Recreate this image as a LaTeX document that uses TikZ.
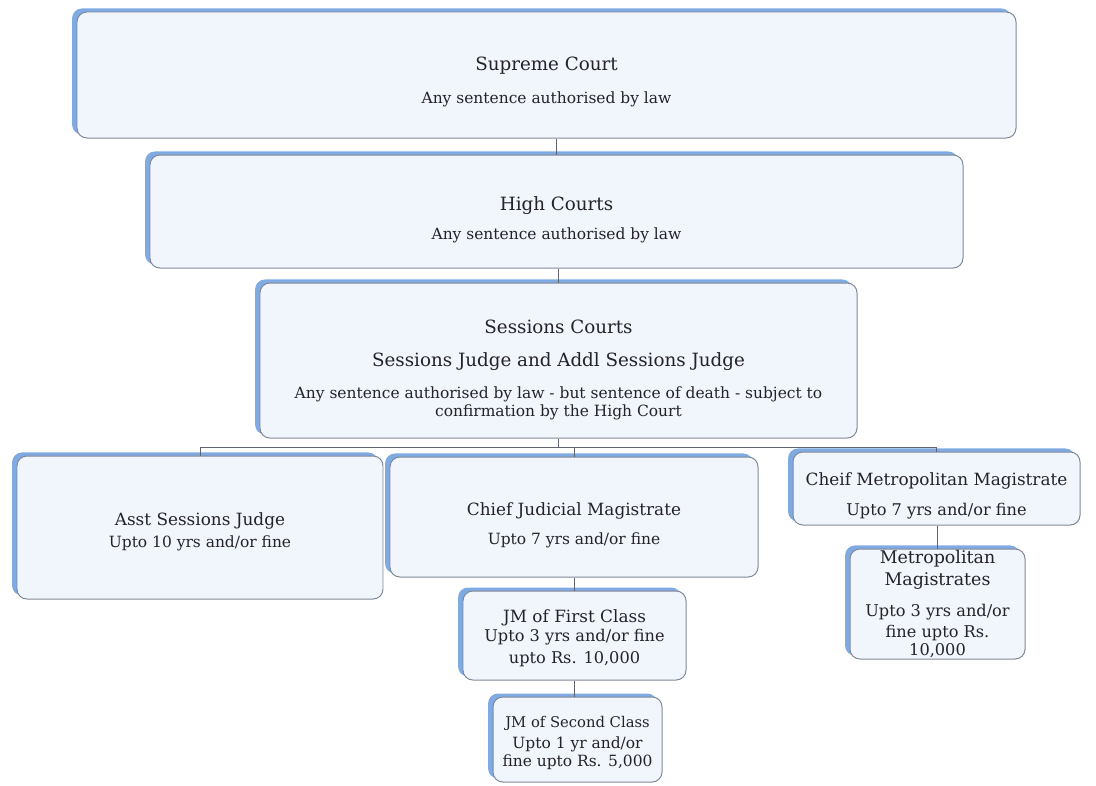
\documentclass[tikz,border=0pt]{standalone}
\usepackage{fontspec}
\setmainfont{DejaVu Serif}
\usepackage{tikz}
\usetikzlibrary{shadows}
\definecolor{boxfill}{RGB}{241,245,252}
\definecolor{boxline}{RGB}{128,136,150}
\definecolor{edgeblue}{RGB}{128,170,226}
\definecolor{wireg}{RGB}{95,100,112}
\definecolor{inkc}{RGB}{35,35,40}
\newcommand{\hd}{\fontsize{13}{15}\selectfont}
\newcommand{\md}{\fontsize{12}{14}\selectfont}
\newcommand{\bd}{\fontsize{11}{13}\selectfont}
\newcommand{\lowr}[1]{\rule{0pt}{#1}}

\tikzset{
  court/.style={draw=boxline, fill=boxfill, rounded corners=7pt, line width=0.7pt,
    align=center, font=\bd, text=inkc, inner sep=2pt,
    drop shadow={shadow xshift=-3.5pt, shadow yshift=2.5pt, fill=edgeblue, opacity=1}},
  wh/.style 2 args={minimum width=#1*0.025cm, minimum height=#2*0.025cm},
  wire/.style={draw=wireg, line width=0.6pt}
}

\begin{document}
\begin{tikzpicture}[x=0.025cm, y=-0.025cm]
  \useasboundingbox (0,0) rectangle (1096,785);
  % top of the tree
  \node[court, wh={939}{126}] (SupC) at (546.5,75)
    {{\hd\lowr{19.5pt}Supreme Court}\\[10.5pt]Any sentence authorised by law};
  \node[court, wh={813}{113}] (HiC) at (556.5,211.5)
    {{\hd\lowr{21.5pt}High Courts}\\[7.5pt]Any sentence authorised by law};
  \node[court, wh={597}{155}] (SesC) at (558.5,360.5)
    {{\hd\lowr{23pt}Sessions Courts}\\[10.5pt]{\hd Sessions Judge and Addl Sessions Judge}\\[10pt]
     Any sentence authorised by law - but sentence of death - subject to\\
     confirmation by the High Court};
  % second row
  \node[court, wh={366}{143}] (AsJ) at (200,527.5)
    {{\md\lowr{15.2pt}Asst Sessions Judge}\\[2.6pt]Upto 10 yrs and/or fine};
  \node[court, wh={368}{120}] (CjM) at (574,517)
    {{\md\lowr{21.2pt}Chief Judicial Magistrate}\\[8pt]Upto 7 yrs and/or fine};
  \node[court, wh={287}{73}] (CmM) at (936.5,488.5)
    {{\md\lowr{19.4pt}Cheif Metropolitan Magistrate}\\[8pt]{\fontsize{11.5}{13}\selectfont Upto 7 yrs and/or fine}};
  % lower magistrates
  \node[court, wh={175}{110}, inner sep=0pt] (MeM) at (937.5,604)
    {{\fontsize{12.4}{14}\selectfont Metropolitan}\\[3pt]{\fontsize{12.4}{14}\selectfont Magistrates}\\[9pt]
     {\fontsize{11.5}{13}\selectfont Upto 3 yrs and/or}\\[1.5pt]{\fontsize{11.5}{13}\selectfont fine upto Rs.}\\
     {\fontsize{11.5}{13}\selectfont 10,000}};
  \node[court, wh={223}{89}] (JmA) at (574.5,635.5)
    {{\md\lowr{12.8pt}JM of First Class}\\[1pt]{\fontsize{11.5}{13}\selectfont Upto 3 yrs and/or fine}\\[2.5pt]
     {\fontsize{11.5}{13}\selectfont upto Rs. 10,000}};
  \node[court, wh={169}{85}] (JmB) at (577.5,739.5)
    {{\fontsize{10.5}{12}\selectfont\lowr{13pt}JM of Second Class}\\[2pt]Upto 1 yr and/or\\fine upto Rs. 5,000};
  % connectors
  \coordinate (bus) at (555,447);
  \draw[wire] (HiC.north) -- (HiC.north |- SupC.south);
  \draw[wire] (SesC.north) -- (SesC.north |- HiC.south);
  \draw[wire] (SesC.south) -- (SesC.south |- bus);
  \draw[wire] (AsJ.north) -- (AsJ.north |- bus) -- (CmM.north |- bus) -- (CmM.north);
  \draw[wire] (CjM.north) -- (CjM.north |- bus);
  \draw[wire] (MeM.north) -- (MeM.north |- CmM.south);
  \draw[wire] (JmA.north) -- (JmA.north |- CjM.south);
  \draw[wire] (JmA.south) -- (JmA.south |- JmB.north);
\end{tikzpicture}
\end{document}
